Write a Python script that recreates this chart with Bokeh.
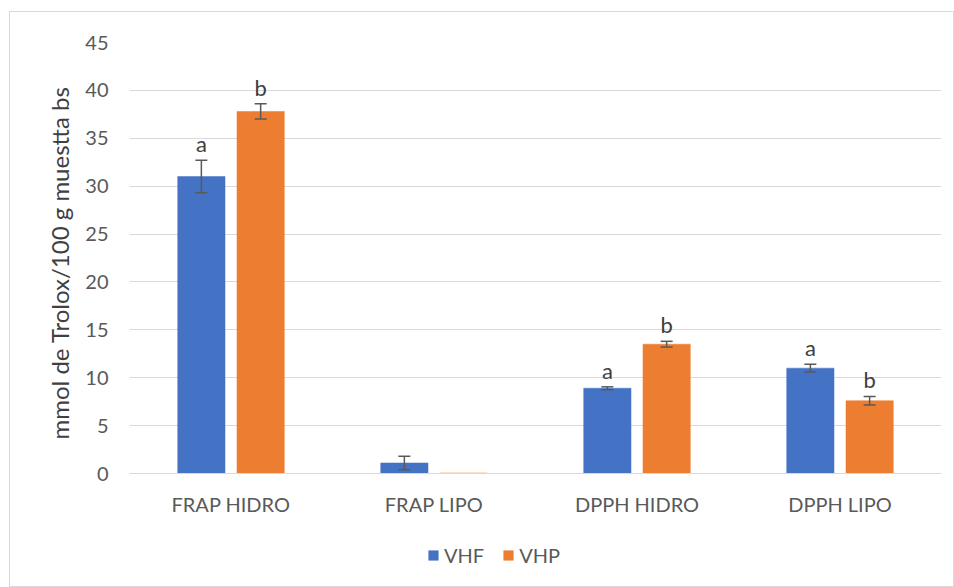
from bokeh.plotting import figure
from bokeh.models import ColumnDataSource, Range1d, FixedTicker, Whisker, TeeHead, Legend, LegendItem, Title
from bokeh.core.properties import value
from bokeh.embed import file_html
from bokeh.resources import INLINE

categories = ["FRAP HIDRO", "FRAP LIPO", "DPPH HIDRO", "DPPH LIPO"]
series = ["VHF", "VHP"]
vhf = [31.0, 1.1, 8.9, 11.0]
vhf_err = [1.7, 0.7, 0.15, 0.4]
vhf_letters = ["a", "", "a", "a"]
vhp = [37.8, 0.05, 13.5, 7.6]
vhp_err = [0.8, 0.0, 0.3, 0.45]
vhp_letters = ["b", "", "b", "b"]
colors = ["#4472C4", "#ED7D31"]
y_ticks = [0, 5, 10, 15, 20, 25, 30, 35, 40, 45]
y_label = "mmol de Trolox/100 g muestta bs"

FONT = "Lato"
TXT = "#595959"

# frame extends below the zero line to leave room for the legend
px_per_unit = 431 / 45.0
frame_h = 541
y_start = 45 - frame_h / px_per_unit

p = figure(width=945, height=576, output_backend="svg", toolbar_location=None,
           x_range=Range1d(0, len(categories)), y_range=Range1d(y_start, 45),
           min_border_left=119, min_border_right=14, min_border_top=30, min_border_bottom=5)
p.margin = (11, 0, 0, 9)
p.styles = {"border": "1px solid #d9d9d9", "box-sizing": "border-box"}
p.outline_line_color = None
p.background_fill_color = "white"
p.border_fill_color = "white"

centers = [i + 0.5 for i in range(len(categories))]
offset = 0.146
bw = 0.233

items = []
for k, (vals, errs, letters) in enumerate([(vhf, vhf_err, vhf_letters), (vhp, vhp_err, vhp_letters)]):
    xs = [c + (-offset if k == 0 else offset) for c in centers]
    src = ColumnDataSource(dict(x=xs, top=vals, up=[v + e for v, e in zip(vals, errs)],
                                lo=[v - e for v, e in zip(vals, errs)], err=errs, lab=letters))
    r = p.vbar(x="x", top="top", width=bw, bottom=0, source=src, fill_color=colors[k],
               line_color=colors[k], line_width=0.5)
    items.append(LegendItem(label=series[k], renderers=[r]))
    wsrc = ColumnDataSource(dict(x=[x for x, e in zip(xs, errs) if e > 0],
                                 up=[v + e for v, e in zip(vals, errs) if e > 0],
                                 lo=[v - e for v, e in zip(vals, errs) if e > 0]))
    w = Whisker(base="x", upper="up", lower="lo", source=wsrc, line_color="#595959", line_width=1.5,
                upper_head=TeeHead(size=12, line_color="#595959", line_width=1.5),
                lower_head=TeeHead(size=12, line_color="#595959", line_width=1.5),
                level="overlay")
    p.add_layout(w)
    p.text(x="x", y="up", text="lab", source=src, text_align="center", text_baseline="bottom",
           y_offset=-3, text_font=value(FONT), text_font_size="22px", text_color="#404040")

p.xaxis.fixed_location = 0
p.xaxis.ticker = FixedTicker(ticks=centers)
p.xaxis.major_label_overrides = {c: n for c, n in zip(centers, categories)}
p.yaxis.ticker = FixedTicker(ticks=y_ticks)
for ax in (p.xaxis[0], p.yaxis[0]):
    ax.major_tick_line_color = None
    ax.minor_tick_line_color = None
    ax.major_label_text_font = FONT
    ax.major_label_text_font_size = "20px"
    ax.major_label_text_color = TXT
p.xaxis.axis_line_color = "#d9d9d9"
p.xaxis.major_label_standoff = 12
p.yaxis.axis_line_color = None
p.yaxis.major_label_standoff = 15
p.xgrid.grid_line_color = None
p.ygrid.grid_line_color = "#d9d9d9"
p.ygrid.grid_line_width = 1

# y-axis title, placed along the 0..45 part of the frame
ytitle = Title(text=y_label, align="left", offset=144, standoff=17,
               text_font=FONT, text_font_size="24px", text_font_style="normal",
               text_color="#404040")
p.add_layout(ytitle, "left")

legend = Legend(items=items, orientation="horizontal", location=(298, 16),
                label_text_font=FONT, label_text_font_size="20px", label_text_color=TXT,
                glyph_width=12, glyph_height=12, spacing=18, padding=0, margin=0,
                border_line_color=None, background_fill_alpha=0, label_standoff=5)
p.add_layout(legend, "center")

open("out.html", "w").write(file_html(p, INLINE))
